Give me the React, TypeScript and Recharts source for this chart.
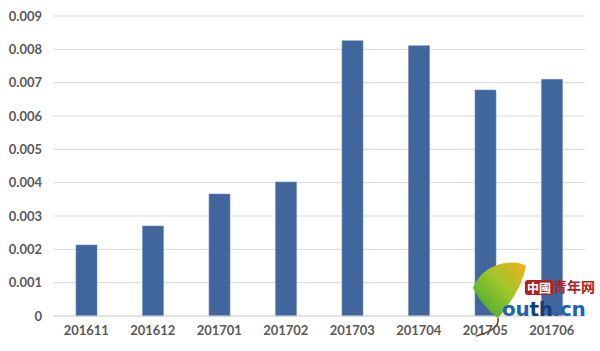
import { BarChart, Bar, XAxis, YAxis, CartesianGrid } from "recharts";

const months = ["201611", "201612", "201701", "201702", "201703", "201704", "201705", "201706"];
const values = [0.00213, 0.0027, 0.00366, 0.00402, 0.00826, 0.00811, 0.00678, 0.0071];
const yTicks = [0, 0.001, 0.002, 0.003, 0.004, 0.005, 0.006, 0.007, 0.008, 0.009];

const data = months.map((m, i) => ({ month: m, value: values[i] }));

const tickStyle = { fill: "#595959", fontSize: 13, fontWeight: 700, fontFamily: "Lato, 'Open Sans', sans-serif" };

// youth.cn watermark, bottom right
function Watermark() {
  return (
    <div style={{ position: "absolute", left: 470, top: 258, width: 130, height: 90, pointerEvents: "none" }}>
      <svg width={130} height={90} style={{ position: "absolute", left: 0, top: 0 }}>
        <defs>
          <linearGradient id="leaf" x1="0" y1="1" x2="1" y2="0">
            <stop offset="0%" stopColor="#2fa337" />
            <stop offset="55%" stopColor="#9cc62b" />
            <stop offset="100%" stopColor="#f2b01e" />
          </linearGradient>
        </defs>
        <path d="M3 30 Q10 12 30 6 Q48 2 56 8 Q52 32 28 60 Q12 48 3 30 Z" fill="url(#leaf)" />
        <path d="M28 60 Q30 72 6 78" stroke="#6b4a1e" strokeWidth={1.6} fill="none" />
      </svg>
      <div style={{ position: "absolute", left: 55, top: 22, width: 28, height: 15, background: "#b3201e", borderRadius: 3, color: "#fff", fontSize: 12, lineHeight: "15px", textAlign: "center", fontFamily: "'Noto Sans CJK TC', sans-serif", fontWeight: 700 }}>
        中國
      </div>
      <div style={{ position: "absolute", left: 83, top: 20, color: "#b3201e", fontSize: 14, lineHeight: "17px", fontFamily: "'Noto Sans CJK SC', serif", fontWeight: 700 }}>
        青年网
      </div>
      <div style={{ position: "absolute", left: 32, top: 42, color: "#1d63ae", fontSize: 20, lineHeight: "18px", fontFamily: "'DejaVu Sans', sans-serif", fontWeight: 700, letterSpacing: -0.3, whiteSpace: "nowrap" }}>
        <span style={{ color: "#1d63ae" }}>ou</span>
        <span style={{ color: "#123f7a" }}>th</span>
        <span>.cn</span>
      </div>
    </div>
  );
}

export default function App() {
  return (
    <div style={{ position: "absolute", left: 0, top: 0, width: 600, height: 351, background: "#fff" }}>
      <BarChart width={600} height={351} data={data} margin={{ top: 16, right: 15, bottom: 5, left: 0 }}>
        <CartesianGrid vertical={false} stroke="#d9d9d9" />
        <XAxis
          dataKey="month"
          height={30}
          tick={tickStyle}
          tickLine={false}
          tickSize={0}
          tickMargin={10}
          axisLine={{ stroke: "#d9d9d9" }}
          interval={0}
        />
        <YAxis
          domain={[0, 0.009]}
          ticks={yTicks}
          width={53}
          tick={tickStyle}
          tickLine={false}
          tickSize={0}
          tickMargin={11}
          axisLine={false}
          interval={0}
        />
        <Bar dataKey="value" fill="#41669e" stroke="#6f8fc0" strokeWidth={0.6} barSize={21} isAnimationActive={false} />
      </BarChart>
      <Watermark />
    </div>
  );
}
